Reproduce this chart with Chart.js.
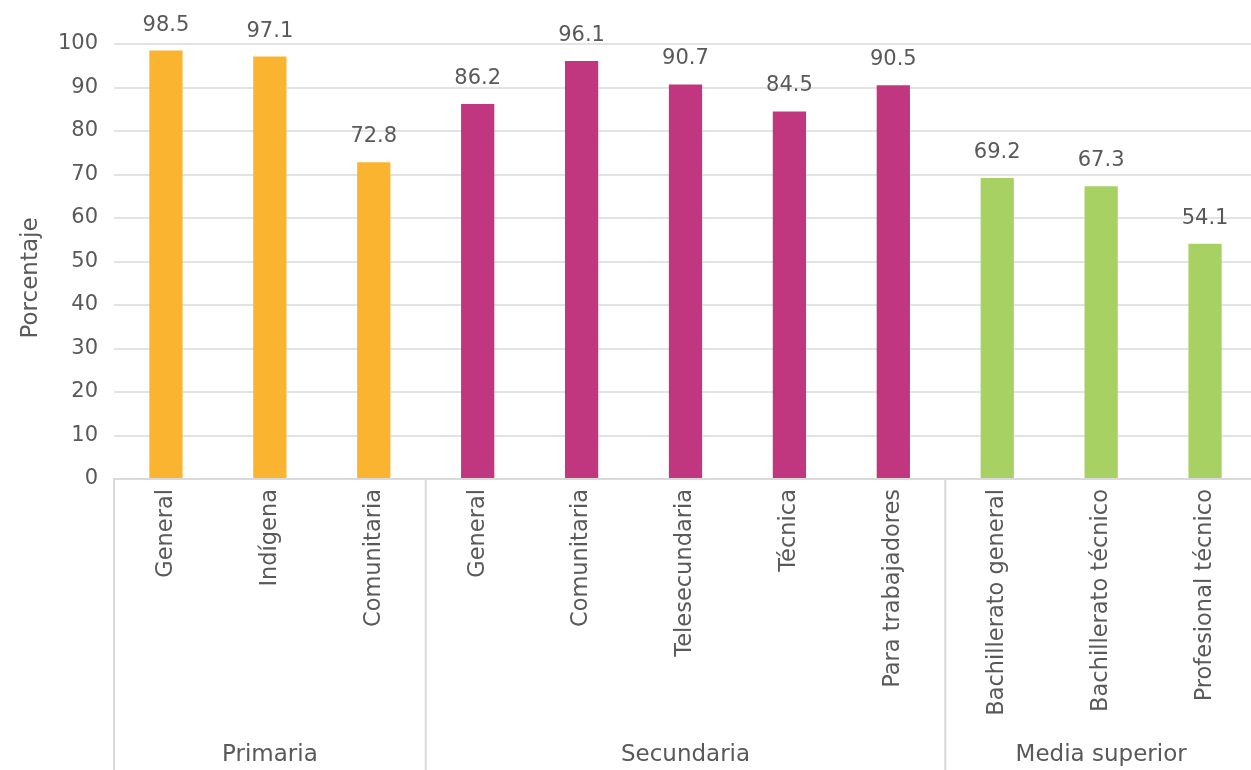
<!DOCTYPE html>
<html>
<head>
<meta charset="utf-8">
<script src="https://cdn.jsdelivr.net/npm/chart.js@4/dist/chart.umd.min.js"></script>
<style>
  html, body { margin: 0; padding: 0; background: #fff; overflow: hidden; }
  canvas { display: block; }
</style>
</head>
<body>
<!-- plot runs a few pixels past the right edge of the window -->
<canvas id="chart-1" width="1257" height="770"></canvas>
<script>
const categories = [
  "General", "Indígena", "Comunitaria",
  "General", "Comunitaria", "Telesecundaria", "Técnica", "Para trabajadores",
  "Bachillerato general", "Bachillerato técnico", "Profesional técnico",
];
const values = [98.5, 97.1, 72.8, 86.2, 96.1, 90.7, 84.5, 90.5, 69.2, 67.3, 54.1];
const groups = ["Primaria", "Secundaria", "Media superior"];
const groupSizes = [3, 5, 3];
const groupColors = ["#fbb430", "#c0367f", "#a8d163"];

const textColor = "#595959";
const fontFamily = "'DejaVu Sans', sans-serif";

const barColors = [];
groupSizes.forEach((n, g) => {
  for (let i = 0; i < n; i++) barColors.push(groupColors[g]);
});

// value labels above each bar
const valueLabels = {
  id: "valueLabels",
  afterDatasetsDraw(chart) {
    const ctx = chart.ctx;
    const meta = chart.getDatasetMeta(0);
    ctx.save();
    ctx.fillStyle = textColor;
    ctx.font = "21px " + fontFamily;
    ctx.textAlign = "center";
    ctx.textBaseline = "alphabetic";
    meta.data.forEach((bar, i) => {
      ctx.fillText(values[i].toFixed(1), bar.x, bar.y - 20);
    });
    ctx.restore();
  },
};

// group separators, group names and the y title
const groupAxis = {
  id: "groupAxis",
  afterDraw(chart) {
    const ctx = chart.ctx;
    const x = chart.scales.x;
    const step = x.getPixelForValue(1) - x.getPixelForValue(0);
    const edge = (i) => x.getPixelForValue(0) - step / 2 + i * step;
    const top = chart.chartArea.bottom;
    const bottom = chart.height;
    ctx.save();
    ctx.strokeStyle = "#d9d9d9";
    ctx.lineWidth = 2;
    let start = 0;
    const bounds = [0];
    groupSizes.forEach((n) => { start += n; bounds.push(start); });
    bounds.forEach((b) => {
      ctx.beginPath();
      ctx.moveTo(edge(b), top);
      ctx.lineTo(edge(b), bottom);
      ctx.stroke();
    });
    ctx.fillStyle = textColor;
    ctx.font = "23px " + fontFamily;
    ctx.textAlign = "center";
    ctx.textBaseline = "middle";
    groups.forEach((name, g) => {
      ctx.fillText(name, (edge(bounds[g]) + edge(bounds[g + 1])) / 2, 755);
    });

    ctx.translate(31, 278);
    ctx.rotate(-Math.PI / 2);
    ctx.fillText("Porcentaje", 0, 0);
    ctx.restore();
  },
};

new Chart(document.getElementById("chart-1"), {
  type: "bar",
  data: {
    labels: categories,
    datasets: [
      {
        data: values,
        backgroundColor: barColors,
        barPercentage: 0.32,
        categoryPercentage: 1,
      },
    ],
  },
  options: {
    responsive: false,
    animation: false,
    layout: {
      padding: { top: 44, right: 0, bottom: 0, left: 0 },
    },
    plugins: {
      legend: { display: false },
      tooltip: { enabled: false },
    },
    scales: {
      x: {
        grid: { display: false, drawTicks: false },
        border: { display: true, color: "#d9d9d9", width: 2 },
        ticks: {
          color: textColor,
          font: { family: fontFamily, size: 22.5 },
          minRotation: 90,
          maxRotation: 90,
          autoSkip: false,
          padding: 10,
        },
        afterFit(scale) {
          scale.height = 291;
        },
      },
      y: {
        min: 0,
        max: 100,
        grid: { color: "#e3e3e3", lineWidth: 2, drawTicks: false },
        border: { display: false },
        ticks: {
          stepSize: 10,
          color: textColor,
          font: { family: fontFamily, size: 21 },
          padding: 16,
        },
        afterFit(scale) {
          scale.width = 114;
        },
      },
    },
  },
  plugins: [valueLabels, groupAxis],
});
</script>
</body>
</html>
